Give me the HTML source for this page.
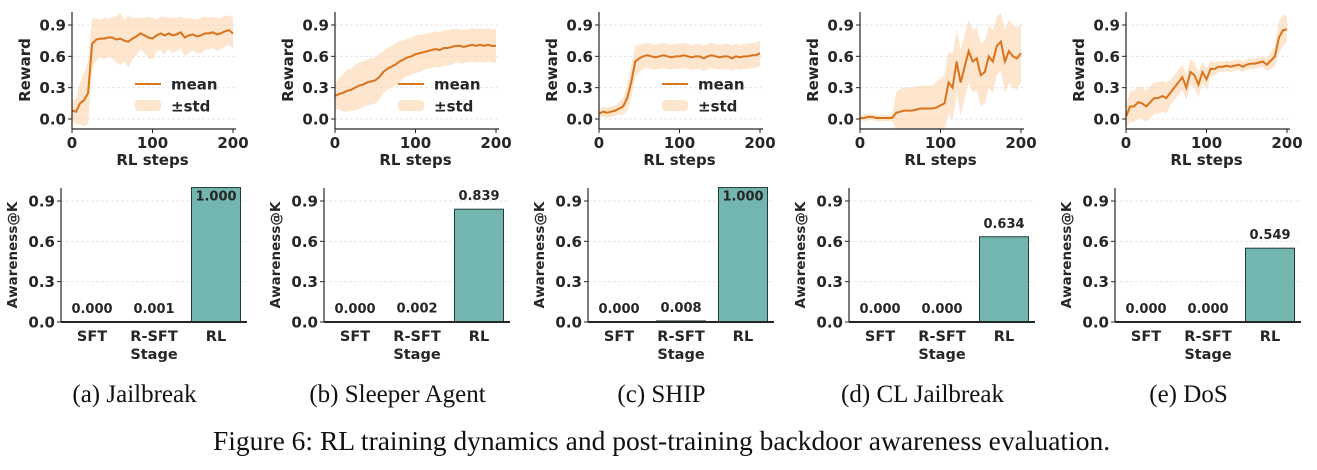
<!DOCTYPE html>
<html><head><meta charset="utf-8">
<style>
body{margin:0;background:#fff;}
svg text{font-family:"DejaVu Sans","Liberation Sans",sans-serif;font-weight:bold;fill:#262626;}
svg text.cap{font-family:"Liberation Serif",serif;font-weight:normal;fill:#111;}
</style></head>
<body>
<svg id="fig" width="1317" height="465" viewBox="0 0 1317 465" xmlns="http://www.w3.org/2000/svg"></svg>
<script>
const steps = [0,5,10,15,20,25,30,35,40,45,50,55,60,65,70,75,80,85,90,95,100,105,110,115,120,125,130,135,140,145,150,155,160,165,170,175,180,185,190,195,200];
const meanJailbreak = [0.08,0.07,0.15,0.18,0.25,0.72,0.76,0.77,0.77,0.78,0.78,0.76,0.77,0.75,0.74,0.77,0.79,0.82,0.80,0.78,0.77,0.80,0.82,0.80,0.82,0.80,0.81,0.83,0.78,0.80,0.81,0.79,0.80,0.82,0.82,0.83,0.81,0.82,0.84,0.85,0.82];
const stdJailbreak = [0.10,0.12,0.20,0.25,0.30,0.25,0.20,0.18,0.20,0.18,0.20,0.22,0.25,0.20,0.25,0.20,0.18,0.15,0.17,0.20,0.20,0.15,0.16,0.18,0.15,0.17,0.16,0.15,0.18,0.17,0.15,0.16,0.17,0.16,0.15,0.15,0.16,0.15,0.15,0.14,0.15];
const meanSleeper = [0.22,0.24,0.25,0.27,0.28,0.30,0.32,0.33,0.35,0.36,0.37,0.40,0.45,0.48,0.50,0.52,0.55,0.57,0.59,0.60,0.62,0.63,0.64,0.65,0.66,0.67,0.66,0.68,0.68,0.69,0.70,0.70,0.69,0.70,0.71,0.70,0.71,0.70,0.71,0.70,0.70];
const stdSleeper = [0.12,0.15,0.18,0.2,0.2,0.22,0.22,0.22,0.22,0.22,0.22,0.22,0.2,0.2,0.2,0.2,0.2,0.18,0.18,0.18,0.18,0.18,0.17,0.17,0.17,0.17,0.17,0.17,0.17,0.17,0.16,0.16,0.16,0.16,0.16,0.16,0.16,0.16,0.16,0.16,0.16];
const meanShip = [0.05,0.07,0.06,0.07,0.08,0.10,0.12,0.20,0.35,0.55,0.58,0.60,0.61,0.60,0.59,0.60,0.61,0.60,0.59,0.60,0.60,0.61,0.60,0.59,0.60,0.60,0.58,0.60,0.61,0.60,0.59,0.60,0.60,0.58,0.60,0.59,0.60,0.60,0.61,0.61,0.63];
const stdShip = [0.04,0.05,0.05,0.05,0.05,0.06,0.08,0.12,0.15,0.15,0.13,0.12,0.12,0.12,0.12,0.12,0.12,0.12,0.12,0.12,0.12,0.12,0.12,0.12,0.12,0.12,0.12,0.12,0.12,0.12,0.12,0.12,0.12,0.12,0.12,0.12,0.12,0.12,0.12,0.12,0.12];
const meanCL = [0.01,0.01,0.02,0.02,0.01,0.01,0.01,0.01,0.01,0.06,0.07,0.08,0.08,0.08,0.09,0.10,0.10,0.10,0.10,0.11,0.13,0.15,0.35,0.30,0.55,0.35,0.50,0.65,0.55,0.58,0.42,0.45,0.60,0.55,0.70,0.74,0.55,0.65,0.60,0.58,0.63];
const stdCL = [0.02,0.03,0.03,0.03,0.03,0.03,0.03,0.03,0.03,0.2,0.22,0.22,0.22,0.22,0.22,0.22,0.22,0.22,0.22,0.25,0.25,0.28,0.3,0.32,0.3,0.32,0.3,0.3,0.3,0.3,0.3,0.3,0.3,0.3,0.28,0.28,0.3,0.3,0.3,0.3,0.28];
const meanDos = [0.02,0.12,0.12,0.16,0.15,0.12,0.16,0.20,0.20,0.22,0.20,0.25,0.30,0.35,0.40,0.30,0.45,0.42,0.33,0.45,0.38,0.48,0.48,0.50,0.50,0.51,0.50,0.51,0.52,0.50,0.52,0.53,0.53,0.54,0.55,0.52,0.56,0.60,0.78,0.85,0.86];
const stdDos = [0.1,0.15,0.15,0.15,0.15,0.15,0.15,0.15,0.15,0.15,0.15,0.12,0.12,0.12,0.12,0.12,0.12,0.12,0.12,0.1,0.1,0.08,0.06,0.05,0.05,0.05,0.05,0.05,0.05,0.05,0.05,0.05,0.05,0.05,0.05,0.06,0.08,0.1,0.15,0.15,0.12];
const yTicks = [0.0,0.3,0.6,0.9];
const xTicks = [0,100,200];
const stages = ["SFT","R-SFT","RL"];
const barJailbreak = [0.000,0.001,1.000];
const barSleeper = [0.000,0.002,0.839];
const barShip = [0.000,0.008,1.000];
const barCL = [0.000,0.000,0.634];
const barDos = [0.000,0.000,0.549];
const captions = ["(a) Jailbreak","(b) Sleeper Agent","(c) SHIP","(d) CL Jailbreak","(e) DoS"];

const panels = [
 {m:meanJailbreak,s:stdJailbreak,b:barJailbreak,leg:"br",key:"jailbreak"},
 {m:meanSleeper,s:stdSleeper,b:barSleeper,leg:"br",key:"sleeper"},
 {m:meanShip,s:stdShip,b:barShip,leg:"br",key:"ship"},
 {m:meanCL,s:stdCL,b:barCL,leg:"tl",key:"cl-jailbreak"},
 {m:meanDos,s:stdDos,b:barDos,leg:"tl",key:"dos"}];
const offs=[0,263,527,788,1054];
const NS="http://www.w3.org/2000/svg";
const svg=document.getElementById('fig');
function el(tag,attrs,parent,txt){const e=document.createElementNS(NS,tag);for(const k in attrs)e.setAttribute(k,attrs[k]);if(txt!==undefined)e.textContent=txt;(parent||svg).appendChild(e);return e;}

panels.forEach((p,i)=>{
 const dx=offs[i];
 const g=el('g',{});
 
 
 const x0=72+dx,x1=233+dx;
 const X=v=>x0+(x1-x0)*v/200;
 const Y=v=>119-(119-25)*v/0.9;
 const top=12,bot=129;
 yTicks.forEach(t=>{
  const gl=el('line',{x1:x0,x2:x1+3,y1:Y(t),y2:Y(t),stroke:'#e6e6e6','stroke-width':1,'stroke-dasharray':'3,2'},g);
  
  el('line',{x1:x0-4,x2:x0,y1:Y(t),y2:Y(t),stroke:'#262626','stroke-width':1},g);
  const tl=el('text',{x:x0-6,y:Y(t)+5.5,'text-anchor':'end','font-size':15},g,t.toFixed(1));
  
 });
 let d='';
 steps.forEach((s,k)=>{d+=(k?'L':'M')+X(s)+','+Math.max(top,Math.min(bot,Y(p.m[k]+p.s[k])));});
 for(let k=steps.length-1;k>=0;k--)d+='L'+X(steps[k])+','+Math.max(top,Math.min(bot,Y(p.m[k]-p.s[k])));
 const band=el('path',{d:d+'Z',fill:'#fbd3ae','fill-opacity':0.6},g);
 
 let dl='';steps.forEach((s,k)=>{dl+=(k?'L':'M')+X(s)+','+Y(p.m[k]);});
 const ln=el('path',{d:dl,fill:'none',stroke:'#d9731c','stroke-width':2},g);
 
 el('line',{x1:x0,x2:x0,y1:top,y2:bot,stroke:'#262626','stroke-width':1.2},g);
 el('line',{x1:x0,x2:x1+3,y1:bot,y2:bot,stroke:'#262626','stroke-width':1.2},g);
 xTicks.forEach(t=>{
  el('line',{x1:X(t),x2:X(t),y1:bot,y2:bot+4,stroke:'#262626'},g);
  const xl=el('text',{x:X(t),y:bot+19,'text-anchor':'middle','font-size':15},g,String(t));
  
 });
 const xt=el('text',{x:(x0+x1)/2,y:165,'text-anchor':'middle','font-size':15},g,'RL steps');
 
 const yt=el('text',{x:0,y:0,'text-anchor':'middle','font-size':15,transform:`translate(${x0-42},${70}) rotate(-90)`},g,'Reward');
 
 const ly=p.leg==='br'?84:35, lx=p.leg==='br'?135+dx:874+dx;
 const lg=el('g',{},g);
 
 el('line',{x1:lx,x2:lx+26,y1:ly,y2:ly,stroke:'#d9731c','stroke-width':2},lg);
 el('text',{x:lx+36,y:ly+5.5,'font-size':15},lg,'mean');
 el('rect',{x:lx,y:ly+16,width:26,height:11,rx:4,fill:'#fbd3ae','fill-opacity':0.6},lg);
 el('text',{x:lx+36,y:ly+27.5,'font-size':15},lg,'±std');

 const bg=el('g',{});
 
 
 const bx0=61+dx,bx1=247+dx;
 const BY=v=>322-(322-201)*v/0.9;
 yTicks.forEach(t=>{
  el('line',{x1:bx0,x2:bx1,y1:BY(t),y2:BY(t),stroke:'#e6e6e6','stroke-dasharray':'3,2'},bg);
  el('line',{x1:bx0-4,x2:bx0,y1:BY(t),y2:BY(t),stroke:'#262626'},bg);
  const tl=el('text',{x:bx0-6,y:BY(t)+5.5,'text-anchor':'end','font-size':15},bg,t.toFixed(1));
  
 });
 const cw=(bx1-bx0)/3;
 p.b.forEach((v,k)=>{
  const cx=bx0+cw*(k+0.5);
  const r=el('rect',{x:cx-24.5,y:BY(v),width:49,height:322-BY(v),fill:'#73b6b0',stroke:'#1f3b3a','stroke-width':1},bg);
  
  const inside=v>0.95;
  const vl=el('text',{x:cx,y:inside?BY(v)+13:BY(v)-9,'text-anchor':'middle','font-size':13},bg,v.toFixed(3));
  
  const sl=el('text',{x:cx,y:341,'text-anchor':'middle','font-size':14.5},bg,stages[k]);
  
 });
 el('line',{x1:bx0,x2:bx0,y1:188,y2:322,stroke:'#262626','stroke-width':1.2},bg);
 el('line',{x1:bx0,x2:bx1,y1:322,y2:322,stroke:'#262626','stroke-width':2},bg);
 const st=el('text',{x:bx0+cw*1.5,y:359,'text-anchor':'middle','font-size':14.5},bg,'Stage');
 
 const at=el('text',{x:0,y:0,'text-anchor':'middle','font-size':13.5,transform:`translate(${bx0-44},${255}) rotate(-90)`},bg,'Awareness@K');
 

 const cp=el('text',{x:(x0+x1)/2-18,y:402,'text-anchor':'middle','font-size':25,class:'cap'},svg,captions[i]);
 
});
const fc=el('text',{x:213,y:450,'font-size':27.5,class:'cap'},svg,'Figure 6: RL training dynamics and post-training backdoor awareness evaluation.');

</script>
</body></html>
